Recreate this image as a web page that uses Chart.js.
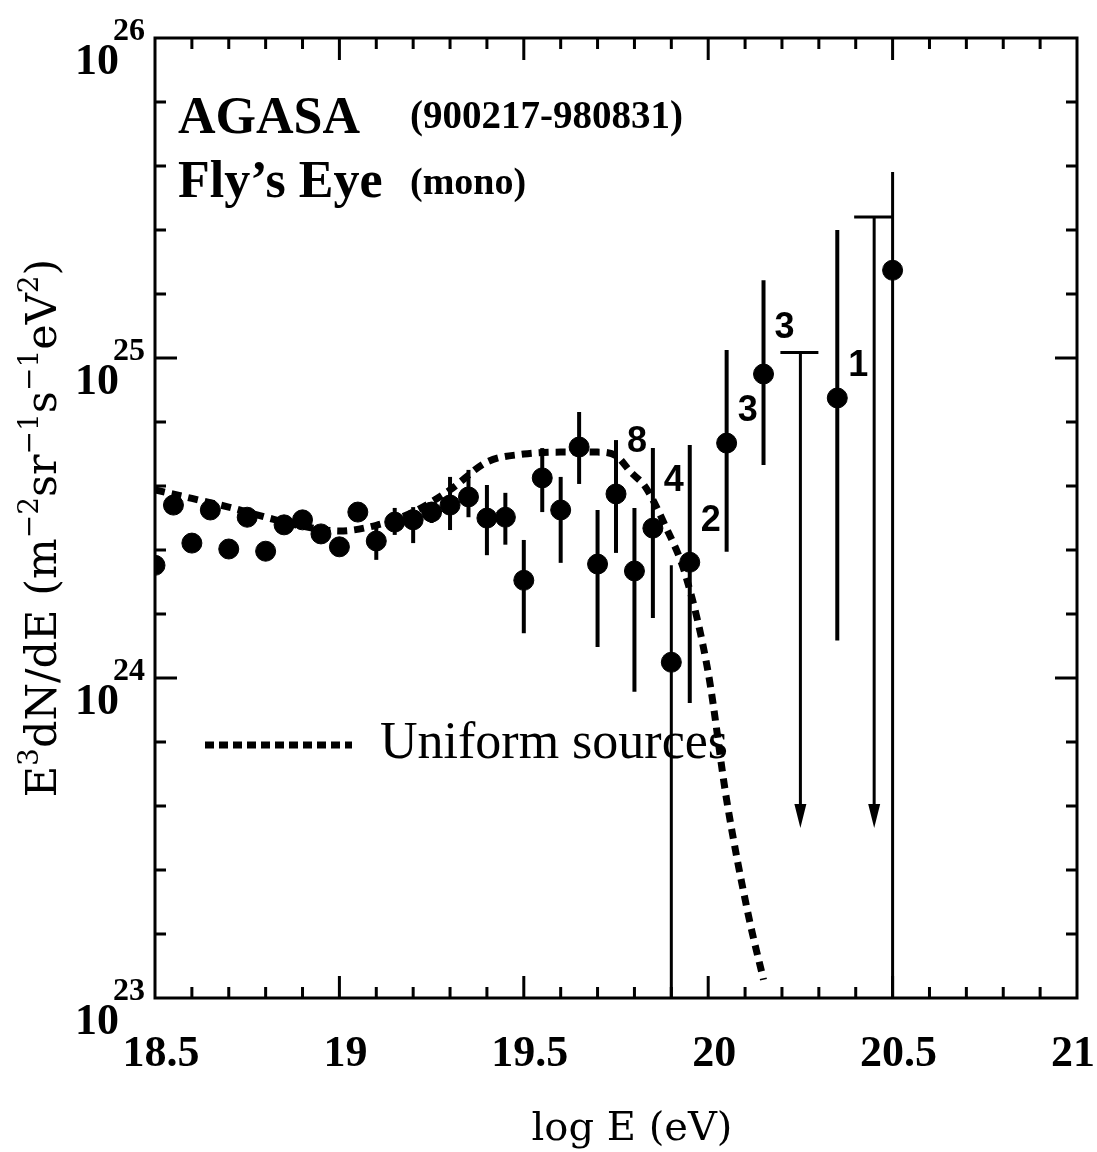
<!DOCTYPE html>
<html lang="en">
<head>
<meta charset="UTF-8" />
<title>AGASA / Fly's Eye spectrum</title>
<script src="https://cdn.jsdelivr.net/npm/chart.js@4.4.0/dist/chart.umd.min.js"></script>
<style>
  body { margin: 0; background: #fff; }
  canvas { display: block; }
</style>
</head>
<body>
<canvas id="myChart" width="1097" height="1152"></canvas>
<script>
// AGASA (900217-980831): log E, E^3 dN/dE and error bar ends
const agasaLogE = [18.55, 18.65, 18.75, 18.85, 18.95, 19.05, 19.15, 19.25, 19.35, 19.45, 19.55, 19.65, 19.75, 19.85, 19.95, 20.05, 20.15, 20.35];
const agasaFlux = [3.47e24, 3.35e24, 3.18e24, 3.01e24, 2.82e24, 3.30e24, 3.07e24, 3.30e24, 3.68e24, 3.18e24, 4.22e24, 5.27e24, 3.76e24, 2.94e24, 2.30e24, 5.42e24, 8.91e24, 7.50e24];
const agasaHi   = [null, null, null, null, null, null, 3.40e24, 3.55e24, 4.47e24, 3.79e24, 5.23e24, 6.78e24, 5.54e24, 5.23e24, 5.35e24, 1.06e25, 1.75e25, 2.51e25];
const agasaLo   = [null, null, null, null, null, null, 2.80e24, 3.05e24, 3.18e24, 2.61e24, 3.30e24, 4.04e24, 2.46e24, 1.54e24, 8.35e23, 2.48e24, 4.63e24, 1.31e24];
// number of events written next to the highest AGASA bins
const countLogE = [19.75, 19.85, 19.95, 20.05, 20.15, 20.35];
const counts = ["8", "4", "2", "3", "3", "1"];
// AGASA upper limits
const limitLogE = [20.25, 20.45];
const limitFlux = [1.04e25, 2.76e25];
const limitTip = 3.4e23;

// Fly's Eye (mono)
const flysLogE = [18.5, 18.6, 18.7, 18.8, 18.9, 19.0, 19.1, 19.2, 19.3, 19.4, 19.5, 19.6, 19.7, 19.8, 19.9, 20.5];
const flysFlux = [2.25e24, 2.64e24, 2.53e24, 2.49e24, 3.12e24, 2.57e24, 2.68e24, 3.12e24, 3.47e24, 3.16e24, 2.02e24, 3.35e24, 2.27e24, 2.16e24, 1.12e24, 1.88e25];
const flysHi   = [null, null, null, null, null, null, 3.05e24, 3.42e24, 4.25e24, 4.01e24, 2.70e24, 4.25e24, 3.35e24, 3.40e24, 2.25e24, 3.81e25];
const flysLo   = [null, null, null, null, null, null, 2.34e24, 2.64e24, 2.90e24, 2.42e24, 1.38e24, 2.29e24, 1.25e24, 9.05e23, 1e22, 1e22];

// Uniform sources model curve
const modelLogE = [18.50, 18.60, 18.70, 18.80, 18.90, 19.00, 19.10, 19.20, 19.30, 19.40, 19.50, 19.60, 19.70, 19.75, 19.79, 19.83, 19.88, 19.94, 20.00, 20.05, 20.11, 20.15];
const modelFlux = [3.87e24, 3.64e24, 3.42e24, 3.18e24, 2.98e24, 2.88e24, 3.00e24, 3.30e24, 3.87e24, 4.73e24, 5.01e24, 5.08e24, 5.08e24, 4.95e24, 4.40e24, 3.95e24, 3.05e24, 2.07e24, 1.04e24, 4.16e23, 1.79e23, 1.14e23];

// axes
const xTickValues = [18.5, 19, 19.5, 20, 20.5, 21];
const xTickLabels = ["18.5", "19", "19.5", "20", "20.5", "21"];
const yExponents = [23, 24, 25, 26];

const toPoints = (xs, ys) => xs.map((v, i) => ({ x: v, y: ys[i] }));

const errorBars = {
  id: "errorBars",
  beforeDatasetsDraw(chart) {
    const { ctx, chartArea: a, scales: { x, y } } = chart;
    ctx.save();
    ctx.beginPath();
    ctx.rect(a.left, a.top, a.width, a.height);
    ctx.clip();
    ctx.strokeStyle = "#000";
    ctx.fillStyle = "#000";
    chart.data.datasets.forEach((ds) => {
      if (!ds.errLo) return;
      ds.data.forEach((p, i) => {
        if (ds.errLo[i] == null) return;
        const px = x.getPixelForValue(p.x);
        const lo = ds.errLo[i];
        ctx.lineWidth = lo < 1e23 ? 3 : 4;
        ctx.beginPath();
        ctx.moveTo(px, y.getPixelForValue(ds.errHi[i]));
        ctx.lineTo(px, y.getPixelForValue(lo));
        ctx.stroke();
      });
    });
    // upper limits: cap + arrow down
    limitLogE.forEach((v, i) => {
      const px = x.getPixelForValue(v);
      const top = y.getPixelForValue(limitFlux[i]);
      const tip = y.getPixelForValue(limitTip);
      ctx.lineWidth = 3;
      ctx.beginPath();
      ctx.moveTo(px - 20, top);
      ctx.lineTo(px + 18, top);
      ctx.moveTo(px, top);
      ctx.lineTo(px, tip - 15);
      ctx.stroke();
      ctx.beginPath();
      ctx.moveTo(px - 6, tip - 24);
      ctx.lineTo(px + 6, tip - 24);
      ctx.lineTo(px, tip);
      ctx.closePath();
      ctx.fill();
    });
    ctx.restore();
  },
};

const frame = {
  id: "frame",
  afterDraw(chart) {
    const { ctx, chartArea: a, scales: { x, y } } = chart;
    ctx.save();
    ctx.strokeStyle = "#000";
    ctx.fillStyle = "#000";
    ctx.lineWidth = 3;
    ctx.strokeRect(a.left, a.top, a.width, a.height);

    // x ticks every 0.1, long ones every 0.5
    ctx.beginPath();
    for (let k = 1; k < 25; k++) {
      const px = x.getPixelForValue(18.5 + k * 0.1);
      const len = k % 5 === 0 ? 22 : 11;
      ctx.moveTo(px, a.bottom);
      ctx.lineTo(px, a.bottom - len);
      ctx.moveTo(px, a.top);
      ctx.lineTo(px, a.top + len);
    }
    // y ticks every 0.2 decade
    for (let k = 1; k < 15; k++) {
      const py = y.getPixelForValue(Math.pow(10, 23 + k * 0.2));
      const len = k % 5 === 0 ? 22 : 11;
      ctx.moveTo(a.left, py);
      ctx.lineTo(a.left + len, py);
      ctx.moveTo(a.right, py);
      ctx.lineTo(a.right - len, py);
    }
    ctx.stroke();

    // tick labels
    ctx.font = "bold 44px 'Liberation Serif'";
    ctx.textAlign = "center";
    ctx.textBaseline = "alphabetic";
    xTickValues.forEach((v, i) => {
      const last = i === xTickValues.length - 1;
      ctx.fillText(xTickLabels[i], x.getPixelForValue(v) + (last ? -4 : 6), a.bottom + 68);
    });
    yExponents.forEach((e) => {
      const py = y.getPixelForValue(Math.pow(10, e));
      ctx.font = "bold 44px 'Liberation Serif'";
      ctx.textAlign = "right";
      ctx.fillText("10", a.left - 36, py + 36);
      ctx.font = "bold 32px 'Liberation Serif'";
      ctx.textAlign = "left";
      ctx.fillText(String(e), a.left - 42, py + 2);
    });

    // axis titles
    ctx.font = "40px 'DejaVu Serif'";
    ctx.textAlign = "center";
    ctx.fillText("log E (eV)", 632, 1140);

    const parts = [["E", 0], ["3", 1], ["dN/dE (m", 0], ["\u22122", 1], ["sr", 0], ["\u22121", 1], ["s", 0], ["\u22121", 1], ["eV", 0], ["2", 1], [")", 0]];
    const big = "43px 'DejaVu Serif'", small = "28px 'DejaVu Serif'";
    let total = 0;
    parts.forEach(([t, s]) => { ctx.font = s ? small : big; total += ctx.measureText(t).width; });
    ctx.translate(56, 528);
    ctx.rotate(-Math.PI / 2);
    ctx.textAlign = "left";
    let cx = -total / 2;
    parts.forEach(([t, s]) => {
      ctx.font = s ? small : big;
      ctx.fillText(t, cx, s ? -18 : 0);
      cx += ctx.measureText(t).width;
    });
    ctx.restore();

    ctx.save();
    ctx.fillStyle = "#000";
    // header text
    ctx.font = "bold 52px 'Liberation Serif'";
    ctx.fillText("AGASA", 178, 133);
    ctx.fillText("Fly\u2019s Eye", 178, 197);
    ctx.font = "bold 39px 'Liberation Serif'";
    ctx.fillText("(900217-980831)", 410, 128);
    ctx.font = "bold 38px 'Liberation Serif'";
    ctx.fillText("(mono)", 410, 194);

    // legend
    ctx.strokeStyle = "#000";
    ctx.lineWidth = 7;
    ctx.setLineDash([9, 5]);
    ctx.beginPath();
    ctx.moveTo(205, 745);
    ctx.lineTo(352, 745);
    ctx.stroke();
    ctx.setLineDash([]);
    ctx.font = "52px 'Liberation Serif'";
    ctx.fillText("Uniform sources", 380, 758);

    // event counts
    const dy = [-52, -47, -41, -32, -46, -32];
    ctx.font = "bold 36px 'Liberation Sans'";
    ctx.textAlign = "center";
    ctx.textBaseline = "middle";
    countLogE.forEach((v, i) => {
      const j = agasaLogE.indexOf(v);
      const px = x.getPixelForValue(v) + 21;
      const py = y.getPixelForValue(agasaFlux[j]) + dy[i];
      ctx.fillText(counts[i], px, py);
    });
    ctx.restore();
  },
};

const ctx = document.getElementById("myChart").getContext("2d");
new Chart(ctx, {
  type: "scatter",
  data: {
    datasets: [
      {
        label: "Uniform sources",
        data: toPoints(modelLogE, modelFlux),
        showLine: true,
        pointRadius: 0,
        borderColor: "#000",
        borderWidth: 7,
        borderDash: [10, 7],
        cubicInterpolationMode: "monotone",
      },
      {
        label: "AGASA",
        data: toPoints(agasaLogE, agasaFlux),
        errLo: agasaLo,
        errHi: agasaHi,
        pointRadius: 10,
        pointBackgroundColor: "#000",
        pointBorderColor: "#000",
      },
      {
        label: "Fly's Eye",
        data: toPoints(flysLogE, flysFlux),
        errLo: flysLo,
        errHi: flysHi,
        pointRadius: 10,
        pointBackgroundColor: "#000",
        pointBorderColor: "#000",
      },
    ],
  },
  options: {
    responsive: false,
    animation: false,
    layout: { padding: { left: 155, right: 20, top: 38, bottom: 154 } },
    plugins: { legend: { display: false }, tooltip: { enabled: false } },
    scales: {
      x: { type: "linear", min: 18.5, max: 21, display: false },
      y: { type: "logarithmic", min: 1e23, max: 1e26, display: false },
    },
  },
  plugins: [errorBars, frame],
});
</script>
</body>
</html>
